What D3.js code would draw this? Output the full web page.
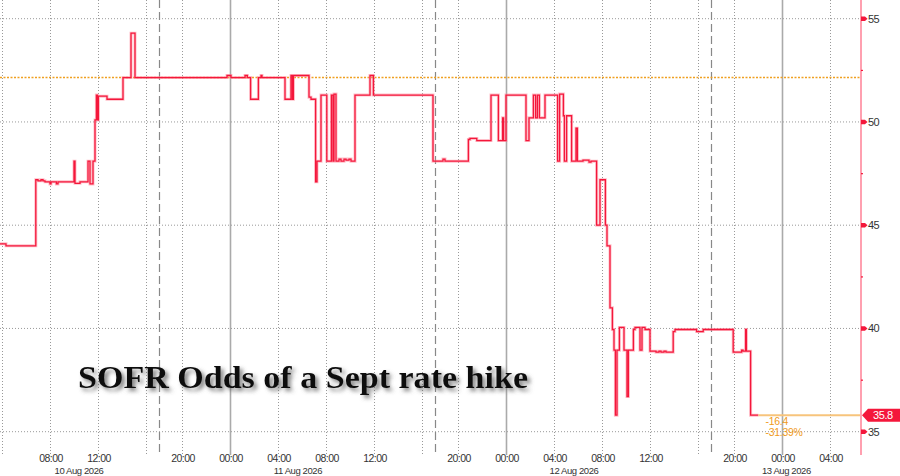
<!DOCTYPE html>
<html>
<head>
<meta charset="utf-8">
<script src="https://cdn.jsdelivr.net/npm/d3@7"></script>
<style>
  html, body { margin: 0; padding: 0; background: #fff; }
  svg { display: block; }
</style>
</head>
<body>
<svg width="900" height="476"></svg>
<script>
// Data: SOFR-implied odds of a September hike
const sofrOdds = [
  ["2026-08-10 03:50", 44.1], ["2026-08-10 04:20", 44.0], ["2026-08-10 06:49", 47.2],
  ["2026-08-10 07:00", 47.15], ["2026-08-10 07:15", 47.2], ["2026-08-10 07:25", 47.15],
  ["2026-08-10 07:35", 47.1], ["2026-08-10 08:00", 47.0], ["2026-08-10 08:05", 47.1],
  ["2026-08-10 08:32", 47.0], ["2026-08-10 08:40", 47.1], ["2026-08-10 10:00", 48.1],
  ["2026-08-10 10:05", 47.03], ["2026-08-10 10:30", 47.1], ["2026-08-10 11:10", 48.1],
  ["2026-08-10 11:20", 47.0], ["2026-08-10 11:35", 48.1], ["2026-08-10 11:45", 50.1],
  ["2026-08-10 11:52", 51.3], ["2026-08-10 11:57", 50.1], ["2026-08-10 12:02", 51.25],
  ["2026-08-10 12:45", 51.1], ["2026-08-10 14:05", 52.15], ["2026-08-10 14:45", 54.3],
  ["2026-08-10 15:05", 52.15],
  ["2026-08-10 23:45", 52.25], ["2026-08-11 00:05", 52.15], ["2026-08-11 01:15", 52.25],
  ["2026-08-11 01:27", 52.15], ["2026-08-11 01:43", 51.1], ["2026-08-11 02:22", 52.15],
  ["2026-08-11 02:35", 52.25], ["2026-08-11 02:40", 52.15], ["2026-08-11 04:35", 51.1],
  ["2026-08-11 05:05", 52.25], ["2026-08-11 05:12", 51.1], ["2026-08-11 05:17", 52.25],
  ["2026-08-11 06:35", 51.2], ["2026-08-11 06:45", 51.1], ["2026-08-11 07:08", 47.1],
  ["2026-08-11 07:15", 48.1], ["2026-08-11 07:35", 51.3], ["2026-08-11 08:04", 48.1],
  ["2026-08-11 08:27", 51.3], ["2026-08-11 08:35", 48.1], ["2026-08-11 08:40", 51.35],
  ["2026-08-11 08:50", 48.1], ["2026-08-11 09:05", 48.2], ["2026-08-11 09:15", 48.1],
  ["2026-08-11 09:30", 48.2], ["2026-08-11 09:40", 48.15], ["2026-08-11 09:55", 48.2],
  ["2026-08-11 10:05", 48.1], ["2026-08-11 10:25", 51.3], ["2026-08-11 11:40", 52.25],
  ["2026-08-11 11:57", 51.3], ["2026-08-11 16:55", 48.1],
  ["2026-08-11 18:45", 48.2], ["2026-08-11 18:55", 48.1], ["2026-08-11 20:52", 49.15],
  ["2026-08-11 21:00", 49.2], ["2026-08-11 21:34", 49.1], ["2026-08-11 22:45", 51.3],
  ["2026-08-11 23:22", 49.1], ["2026-08-11 23:43", 50.2], ["2026-08-11 23:48", 49.1],
  ["2026-08-12 00:00", 51.3], ["2026-08-12 01:40", 49.1], ["2026-08-12 01:55", 50.2],
  ["2026-08-12 02:17", 51.3], ["2026-08-12 02:28", 50.2], ["2026-08-12 02:37", 51.3],
  ["2026-08-12 02:47", 50.2], ["2026-08-12 03:15", 51.3], ["2026-08-12 04:18", 48.1],
  ["2026-08-12 04:28", 51.35], ["2026-08-12 04:47", 50.3], ["2026-08-12 04:52", 48.1],
  ["2026-08-12 05:03", 50.3], ["2026-08-12 05:28", 48.1], ["2026-08-12 05:50", 49.7],
  ["2026-08-12 05:57", 48.1], ["2026-08-12 06:25", 48.15], ["2026-08-12 06:55", 48.05],
  ["2026-08-12 07:05", 48.1], ["2026-08-12 07:33", 45.0], ["2026-08-12 07:50", 47.2],
  ["2026-08-12 08:17", 45.0], ["2026-08-12 08:25", 44.0], ["2026-08-12 08:40", 41.0],
  ["2026-08-12 08:52", 39.95], ["2026-08-12 09:00", 38.95], ["2026-08-12 09:07", 35.8],
  ["2026-08-12 09:15", 38.95], ["2026-08-12 09:27", 40.05], ["2026-08-12 09:50", 38.95],
  ["2026-08-12 10:05", 36.7], ["2026-08-12 10:12", 38.95], ["2026-08-12 10:37", 39.95],
  ["2026-08-12 10:45", 40.05], ["2026-08-12 11:10", 38.95], ["2026-08-12 11:20", 40.05],
  ["2026-08-12 11:35", 39.95], ["2026-08-12 12:00", 38.9], ["2026-08-12 12:30", 38.85],
  ["2026-08-12 12:45", 38.9], ["2026-08-12 12:55", 38.85], ["2026-08-12 13:10", 38.9],
  ["2026-08-12 13:20", 38.85], ["2026-08-12 13:56", 39.85], ["2026-08-12 14:05", 39.95],
  ["2026-08-12 15:53", 39.85], ["2026-08-12 16:26", 39.95],
  ["2026-08-12 19:56", 38.85], ["2026-08-12 20:38", 38.95], ["2026-08-12 20:45", 38.9],
  ["2026-08-12 20:58", 39.95], ["2026-08-12 21:02", 38.9], ["2026-08-12 21:23", 35.8],
  ["2026-08-12 22:02", 35.8]
];

const referenceLevel = 52.15;   // orange dotted line
const lastValue = 35.8;
const changeLabels = ["-16.4", "-31.39%"];
const title = "SOFR Odds of a Sept rate hike";

const viewStart = "2026-08-10 03:50";
const viewEnd = "2026-08-13 06:35";
// daily 17:00-18:00 pause, squeezed out of the time axis
const sessionBreaks = [
  ["2026-08-10 17:00", "2026-08-10 18:00"],
  ["2026-08-11 17:00", "2026-08-11 18:00"],
  ["2026-08-12 17:00", "2026-08-12 18:00"]
];

const timeTicks = [
  ["2026-08-10 04:00", ""], ["2026-08-10 08:00", "08:00"], ["2026-08-10 12:00", "12:00"],
  ["2026-08-10 16:00", ""], ["2026-08-10 20:00", "20:00"], ["2026-08-11 00:00", "00:00"],
  ["2026-08-11 04:00", "04:00"], ["2026-08-11 08:00", "08:00"], ["2026-08-11 12:00", "12:00"],
  ["2026-08-11 16:00", ""], ["2026-08-11 20:00", "20:00"], ["2026-08-12 00:00", "00:00"],
  ["2026-08-12 04:00", "04:00"], ["2026-08-12 08:00", "08:00"], ["2026-08-12 12:00", "12:00"],
  ["2026-08-12 16:00", ""], ["2026-08-12 20:00", "20:00"], ["2026-08-13 00:00", "00:00"],
  ["2026-08-13 04:00", "04:00"]
];
const dateLabels = [
  ["2026-08-10 10:25", "10 Aug 2026"], ["2026-08-11 05:40", "11 Aug 2026"],
  ["2026-08-12 05:40", "12 Aug 2026"], ["2026-08-13 00:22", "13 Aug 2026"]
];
const yTicks = [35, 40, 45, 50, 55];
const yMinorTicks = [37.5, 42.5, 47.5, 52.5];

const parseT = d3.timeParse("%Y-%m-%d %H:%M");
const svg = d3.select("svg");

const plotRight = 861;
const plotBottom = 455;
const axisFont = "'Liberation Sans', Arial, sans-serif";

// piecewise time scale: each break start and end map to the same pixel
const knots = [viewStart, ...sessionBreaks.flat(), viewEnd].map(parseT);
let cum = [0];
for (let i = 1; i < knots.length; i++) {
  const hours = (knots[i] - knots[i - 1]) / 36e5;
  cum.push(cum[i - 1] + ((i - 1) % 2 === 0 ? hours : 0));
}
const pxPerHour = plotRight / cum[cum.length - 1];
const x = d3.scaleTime().domain(knots).range(cum.map((h) => h * pxPerHour));
const y = d3.scaleLinear().domain([35, 55]).range([431.7, 18.7]);

// horizontal grid
svg.append("g")
  .selectAll("line")
  .data(yTicks)
  .join("line")
  .attr("x1", 0)
  .attr("x2", plotRight)
  .attr("y1", (d) => y(d))
  .attr("y2", (d) => y(d))
  .attr("stroke", "#999")
  .attr("stroke-width", 1)
  .attr("stroke-dasharray", "1,2");

// vertical grid, midnight lines solid
svg.append("g")
  .selectAll("line")
  .data(timeTicks)
  .join("line")
  .attr("x1", (d) => Math.round(x(parseT(d[0]))) + 0.5)
  .attr("x2", (d) => Math.round(x(parseT(d[0]))) + 0.5)
  .attr("y1", 0)
  .attr("y2", plotBottom)
  .attr("stroke", (d) => (d[0].endsWith("00:00") ? "#aaa" : "#999"))
  .attr("stroke-width", (d) => (d[0].endsWith("00:00") ? 1.6 : 1))
  .attr("stroke-dasharray", (d) => (d[0].endsWith("00:00") ? null : "1,2"));

// session break markers
svg.append("g")
  .selectAll("line")
  .data(sessionBreaks)
  .join("line")
  .attr("x1", (d) => x(parseT(d[0])) + 1.5)
  .attr("x2", (d) => x(parseT(d[0])) + 1.5)
  .attr("y1", 0)
  .attr("y2", plotBottom)
  .attr("stroke", "#888")
  .attr("stroke-width", 1.2)
  .attr("stroke-dasharray", "8,4");

// reference level
svg.append("line")
  .attr("x1", 0)
  .attr("x2", plotRight)
  .attr("y1", y(referenceLevel))
  .attr("y2", y(referenceLevel))
  .attr("stroke", "#f0a020")
  .attr("stroke-width", 1.5)
  .attr("stroke-dasharray", "2,1.5");

// title with soft shadow
const defs = svg.append("defs");
const f = defs.append("filter").attr("id", "shadow").attr("x", "-5%").attr("y", "-30%")
  .attr("width", "115%").attr("height", "170%");
f.append("feDropShadow")
  .attr("dx", 3).attr("dy", 3).attr("stdDeviation", 2)
  .attr("flood-color", "#555").attr("flood-opacity", 0.75);

svg.append("text")
  .attr("x", 78)
  .attr("y", 388)
  .attr("font-family", "'Liberation Serif', 'DejaVu Serif', serif")
  .attr("font-weight", "bold")
  .attr("font-size", 31)
  .attr("textLength", 450)
  .attr("lengthAdjust", "spacingAndGlyphs")
  .attr("fill", "#111")
  .attr("filter", "url(#shadow)")
  .text(title);

// price line
const pts = sofrOdds.map(([t, v]) => [parseT(t), v]);
const line = d3.line()
  .x((d) => x(d[0]))
  .y((d) => y(d[1]))
  .curve(d3.curveStepAfter);

svg.append("path")
  .datum(pts)
  .attr("fill", "none")
  .attr("stroke", "#ff8a9c")
  .attr("stroke-opacity", 0.55)
  .attr("stroke-width", 3)
  .attr("d", line);
svg.append("path")
  .datum(pts)
  .attr("fill", "none")
  .attr("stroke", "#f4173b")
  .attr("stroke-width", 1.3)
  .attr("d", line);

// change line from last point to axis
const lastPt = pts[pts.length - 1];
svg.append("line")
  .attr("x1", x(lastPt[0]))
  .attr("x2", plotRight)
  .attr("y1", y(lastValue))
  .attr("y2", y(lastValue))
  .attr("stroke", "#f7c47c")
  .attr("stroke-width", 2);

svg.append("g")
  .selectAll("text")
  .data(changeLabels)
  .join("text")
  .attr("x", x(pts[pts.length - 2][0]) + 15)
  .attr("y", (d, i) => y(lastValue) + 10 + i * 11)
  .attr("font-family", axisFont)
  .attr("font-size", 10.5)
  .attr("letter-spacing", -0.3)
  .attr("fill", "#f09a20")
  .text((d) => d);

// right axis
svg.append("line")
  .attr("x1", plotRight)
  .attr("x2", plotRight)
  .attr("y1", 0)
  .attr("y2", plotBottom)
  .attr("stroke", "#ffa0b0")
  .attr("stroke-width", 2);

svg.append("g")
  .selectAll("rect")
  .data(yMinorTicks)
  .join("rect")
  .attr("x", plotRight)
  .attr("y", (d) => y(d) - 0.5)
  .attr("width", 2)
  .attr("height", 1.2)
  .attr("fill", "#f4173b");

const tickG = svg.append("g")
  .selectAll("g")
  .data(yTicks)
  .join("g")
  .attr("transform", (d) => `translate(${plotRight},${y(d)})`);
tickG.append("path")
  .attr("d", "M0,-2.2L4,-2.2L6.5,0L4,2.2L0,2.2Z")
  .attr("fill", "#f4173b");
tickG.append("text")
  .attr("x", 7)
  .attr("y", 4)
  .attr("font-family", axisFont)
  .attr("font-size", 11)
  .attr("letter-spacing", -0.6)
  .attr("fill", "#333")
  .text((d) => d);

// last value tag
const tag = svg.append("g").attr("transform", `translate(${plotRight + 1},${y(lastValue)})`);
tag.append("path")
  .attr("d", "M0,0L6,-6.5L40,-6.5L40,6.5L6,6.5Z")
  .attr("fill", "#f4173b");
tag.append("text")
  .attr("x", 11)
  .attr("y", 4)
  .attr("font-family", axisFont)
  .attr("font-size", 11)
  .attr("letter-spacing", -0.4)
  .attr("fill", "#fff")
  .text(d3.format(".1f")(lastValue));

// bottom time labels
svg.append("g")
  .selectAll("text")
  .data(timeTicks.filter((d) => d[1] !== ""))
  .join("text")
  .attr("x", (d) => x(parseT(d[0])) + 1)
  .attr("y", 462)
  .attr("text-anchor", "middle")
  .attr("font-family", axisFont)
  .attr("font-size", 10.5)
  .attr("letter-spacing", -0.6)
  .attr("fill", "#333")
  .text((d) => d[1]);

svg.append("g")
  .selectAll("text")
  .data(dateLabels)
  .join("text")
  .attr("x", (d) => x(parseT(d[0])))
  .attr("y", 473.5)
  .attr("text-anchor", "middle")
  .attr("font-family", axisFont)
  .attr("font-size", 9.5)
  .attr("letter-spacing", -0.4)
  .attr("fill", "#333")
  .text((d) => d[1]);
</script>
</body>
</html>
